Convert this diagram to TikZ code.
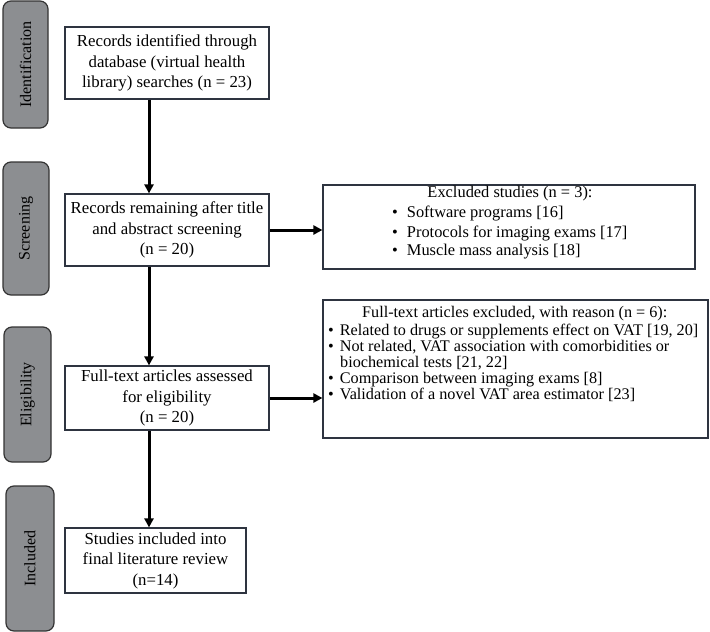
\documentclass[tikz,border=0pt]{standalone}
\usepackage{fontspec}
\setmainfont{Liberation Serif}
\usetikzlibrary{arrows.meta}
\definecolor{bord}{HTML}{2E3440}
\definecolor{side}{HTML}{8C8E91}
\begin{document}
\begin{tikzpicture}[x=1pt,y=-1pt,
 box/.style={draw=bord,line width=1.2pt,fill=white,align=center,font=\fontsize{16.8}{20.5}\selectfont,inner sep=0pt},
 rbox/.style={draw=bord,line width=1.2pt,fill=white,inner sep=0pt},
 sidebox/.style={draw=black!80,line width=1.2pt,fill=side,rounded corners=8pt,rotate=90,font=\fontsize{16}{18}\selectfont,inner sep=0pt},
 arr/.style={line width=3pt,-{Triangle[length=9pt,width=9pt]}},
 rtext/.style={font=\fontsize{16.4}{16}\selectfont,inner sep=0pt,anchor=mid west,text height=11pt,text depth=3pt},
 rtitle/.style={font=\fontsize{16.4}{16}\selectfont,inner sep=0pt,anchor=mid,text height=11pt,text depth=3pt},
 rtextb/.style={font=\fontsize{16.2}{16}\selectfont,inner sep=0pt,anchor=mid west,text height=10pt,text depth=2.5pt}]
\useasboundingbox (0,0) rectangle (710,632);
% side labels
\node[sidebox,minimum width=127pt,minimum height=45pt] (s1) at (25.5,64.5) {Identification};
\node[sidebox,minimum width=133pt,minimum height=46pt] (s2) at (26,228.5) {Screening};
\node[sidebox,minimum width=135pt,minimum height=47pt] (s3) at (27.5,394.5) {Eligibility};
\node[sidebox,minimum width=145pt,minimum height=48pt] (s4) at (30,558.5) {Included};
% main boxes
\node[box,minimum width=204pt,minimum height=72pt] (b1) at (167,63) {Records identified through\\database (virtual health\\library) searches (n = 23)};
\node[box,minimum width=204pt,minimum height=72pt] (b2) at (167,230) {Records remaining after title\\and abstract screening\\(n = 20)};
\node[box,minimum width=204pt,minimum height=64pt] (b3) at (167,398) {Full-text articles assessed\\for eligibility\\(n = 20)};
\node[box,minimum width=181pt,minimum height=65pt] (b4) at (155.5,560.5) {Studies included into\\final literature review\\(n=14)};
% right boxes
\node[rbox,minimum width=372pt,minimum height=84pt] (r1) at (509,227) {};
\node[rtitle] (r1t) at (510,195) {Excluded studies (n = 3):};
\node[rtext] (r1a) at (392,215) {\textbullet\hspace{9pt}Software programs [16]};
\node[rtext] (r1b) at (392,235) {\textbullet\hspace{9pt}Protocols for imaging exams [17]};
\node[rtext] (r1c) at (392,253) {\textbullet\hspace{9pt}Muscle mass analysis [18]};
\node[rbox,minimum width=385pt,minimum height=138pt] (r2) at (515.5,369) {};
\node[rtextb] (r2t) at (362,315) {Full-text articles excluded, with reason (n = 6):};
\node[rtextb] (r2a) at (328,333) {\textbullet\hspace{6pt}Related to drugs or supplements effect on VAT [19, 20]};
\node[rtextb] (r2b) at (328,349) {\textbullet\hspace{6pt}Not related, VAT association with comorbidities or};
\node[rtextb] (r2c) at (340,365) {biochemical tests [21, 22]};
\node[rtextb] (r2d) at (328,381) {\textbullet\hspace{6pt}Comparison between imaging exams [8]};
\node[rtextb] (r2e) at (328,397) {\textbullet\hspace{6pt}Validation of a novel VAT area estimator [23]};
% arrows
\coordinate (ax) at (149,0);
\draw[arr] (b1.south -| ax) -- (b2.north -| ax);
\draw[arr] (b2.south -| ax) -- (b3.north -| ax);
\draw[arr] (b3.south -| ax) -- (b4.north -| ax);
\draw[arr] (b2.east) -- (b2.east -| r1.west);
\draw[arr] (b3.east) -- (b3.east -| r2.west);
\end{tikzpicture}
\end{document}
